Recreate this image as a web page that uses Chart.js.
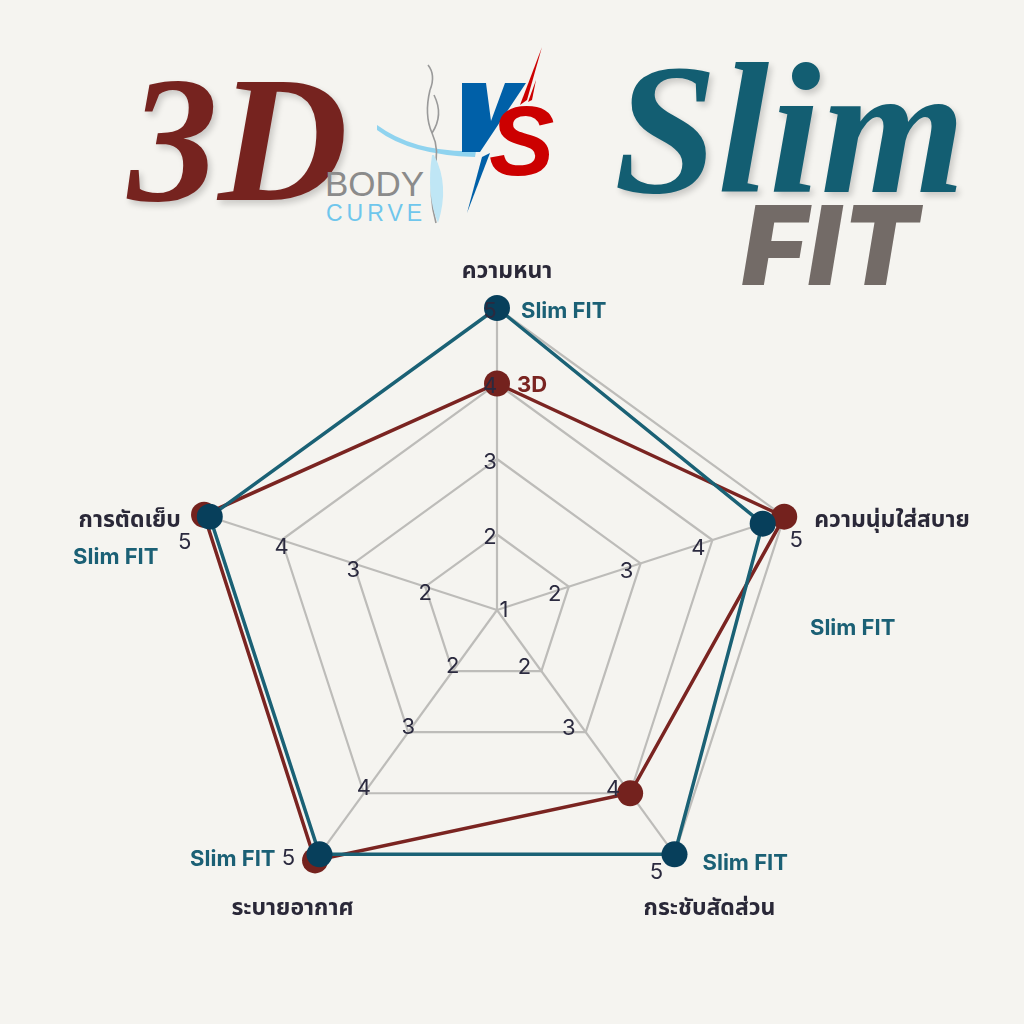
<!DOCTYPE html>
<html>
<head>
<meta charset="utf-8">
<script src="https://cdn.jsdelivr.net/npm/chart.js@4.4.1/dist/chart.umd.min.js"></script>
<style>
  html,body{margin:0;padding:0;background:#f5f4f0;width:1024px;height:1024px;overflow:hidden;}
  #wrap{position:relative;width:1024px;height:1024px;}
  canvas{position:absolute;left:0;top:0;}
  .t{position:absolute;white-space:nowrap;line-height:1;}
  #t3d{left:128px;top:50px;font-family:"Liberation Serif","DejaVu Serif",serif;font-style:italic;font-weight:bold;font-size:180px;color:#76231f;text-shadow:3px 4px 6px rgba(0,0,0,0.18);}
  #tbody{left:325px;top:166px;font-family:"Liberation Sans",sans-serif;font-size:35px;color:#8b8b8b;letter-spacing:0px;}
  #tcurve{left:326px;top:202px;font-family:"Liberation Sans",sans-serif;font-size:23px;color:#6fc6ec;letter-spacing:4px;}
  #tslim{left:614px;top:36px;font-family:"Liberation Serif","DejaVu Serif",serif;font-style:italic;font-weight:bold;font-size:186px;color:#135e72;text-shadow:3px 4px 6px rgba(0,0,0,0.18);}
  #tfit{left:742px;top:190px;font-family:"Inter","Liberation Sans",sans-serif;font-style:oblique 12deg;font-weight:900;font-size:110px;color:#736b67;letter-spacing:2px;}
  #vs{position:absolute;left:370px;top:45px;}
</style>
</head>
<body>
<div id="wrap">
  <svg id="vs" width="200" height="185" viewBox="0 0 200 185">
    <path d="M7 85 Q40 110 105 112 L106 106 Q45 108 7 80 Z" fill="#8fd3ef"/>
    <path d="M60 45 Q54 70 62 88 Q70 105 64 125 Q58 150 66 178" stroke="#9a9a9a" stroke-width="1.6" fill="none"/>
    <path d="M60 45 Q66 30 58 20 M62 88 Q74 70 64 50" stroke="#9a9a9a" stroke-width="1.6" fill="none"/>
    <path d="M64 110 Q80 140 68 178 Q56 150 62 110 Z" fill="#bfe6f5"/>
    <path d="M172 2 L150 60 L157 55 Z" fill="#cc0000"/>
    <path d="M166 35 L158 57 L162 55 Z" fill="#cc0000"/>
    <path d="M120 108 L97 168 L112 112 Z" fill="#0060a8"/>
    <path d="M92 38 L116 38 L121 76 L135 38 L156 38 L110 107 L92 107 Z" fill="#0060a8"/>
    <text x="119" y="130" font-family="Liberation Sans, sans-serif" font-weight="bold" font-style="italic" font-size="98" fill="#cc0000">S</text>
  </svg>
  <div class="t" id="t3d">3D</div>
  <div class="t" id="tbody">BODY</div>
  <div class="t" id="tcurve">CURVE</div>
  <div class="t" id="tslim">Slim</div>
  <div class="t" id="tfit">FIT</div>
  <canvas id="c" width="1024" height="1024"></canvas>
</div>
<script>
const categories = ["ความหนา", "ความนุ่มใส่สบาย", "กระชับสัดส่วน", "ระบายอากาศ", "การตัดเย็บ"];
const slimFitValues = [5, 4.7, 5, 5, 5];
const threeDValues = [4, 5, 4, 5.1, 5.08];
const tickValues = [2, 3, 4, 5];
const seriesNames = ["Slim FIT", "3D"];

const FONT = '"Inter","Noto Sans Thai","Noto Sans","DejaVu Sans",sans-serif';
const TICK_FONT = '"Inter","Roboto","DejaVu Sans",sans-serif';

// label offsets (styling)
const tickOffInner = [[-7,3],[-14,8],[-17,-4],[0,-5],[0,7]];
const tickOff5 = [[-7,3],[12,24],[-18,18],[-31,4],[-25,26]];
const axisTitleOff = [[10,-37,'center'],[30,3,'left'],[35,54,'center'],[-27,54,'center'],[-29,3,'right']];
const slimLabelOff = [[24,3,'left'],[90,105,'center'],[28,9,'left'],[-44,5,'right'],[-94,41,'center']];
const threeDLabelOff = [[20,2,'left'],null,null,null,null];

const labelPlugin = {
  id: 'labelPlugin',
  afterDatasetsDraw(chart) {
    const ctx = chart.ctx;
    const r = chart.scales.r;
    ctx.save();
    ctx.textBaseline = 'middle';
    ctx.fillStyle = '#2b2a3f';
    ctx.font = '22px ' + TICK_FONT;
    ctx.textAlign = 'center';
    const c = r.getPointPositionForValue(0, 1);
    ctx.fillText('1', c.x + 7, c.y);
    categories.forEach((_, i) => {
      tickValues.forEach(v => {
        const p = r.getPointPositionForValue(i, v);
        const o = v === 5 ? tickOff5[i] : tickOffInner[i];
        ctx.fillText(String(v), p.x + o[0], p.y + o[1]);
      });
    });
    ctx.fillStyle = '#2a2838';
    ctx.font = 'bold 23px ' + FONT;
    categories.forEach((lab, i) => {
      const p = r.getPointPositionForValue(i, 5);
      const o = axisTitleOff[i];
      ctx.textAlign = o[2];
      ctx.fillText(lab, p.x + o[0], p.y + o[1]);
    });
    ctx.font = 'bold 22px ' + FONT;
    const m0 = chart.getDatasetMeta(0);
    const m1 = chart.getDatasetMeta(1);
    ctx.fillStyle = '#1b6075';
    m0.data.forEach((pt, i) => {
      const o = slimLabelOff[i];
      if (!o) return;
      ctx.textAlign = o[2];
      ctx.fillText(seriesNames[0], pt.x + o[0], pt.y + o[1]);
    });
    ctx.fillStyle = '#7a2421';
    m1.data.forEach((pt, i) => {
      const o = threeDLabelOff[i];
      if (!o) return;
      ctx.textAlign = o[2];
      ctx.fillText(seriesNames[1], pt.x + o[0], pt.y + o[1]);
    });
    ctx.restore();
  }
};

new Chart(document.getElementById('c'), {
  type: 'radar',
  data: {
    labels: categories,
    datasets: [
      {
        label: seriesNames[0],
        data: slimFitValues,
        borderColor: '#1a6175',
        backgroundColor: 'rgba(0,0,0,0)',
        borderWidth: 3.5,
        pointRadius: 13,
        pointBackgroundColor: '#073f5b',
        pointBorderWidth: 0,
        fill: false
      },
      {
        label: seriesNames[1],
        data: threeDValues,
        borderColor: '#7a2421',
        backgroundColor: 'rgba(0,0,0,0)',
        borderWidth: 3.5,
        pointRadius: 13,
        pointBackgroundColor: '#74221e',
        pointBorderWidth: 0,
        fill: false
      }
    ]
  },
  options: {
    responsive: false,
    animation: false,
    layout: { padding: { left: 195, top: 308, right: 225, bottom: 112 } },
    plugins: { legend: { display: false }, tooltip: { enabled: false } },
    scales: {
      r: {
        min: 1, max: 5,
        ticks: { display: false, stepSize: 1 },
        grid: { color: '#bdbcb9', lineWidth: 2.2 },
        angleLines: { color: '#bdbcb9', lineWidth: 2.2 },
        pointLabels: { display: false }
      }
    }
  },
  plugins: [labelPlugin]
});
</script>
</body>
</html>
